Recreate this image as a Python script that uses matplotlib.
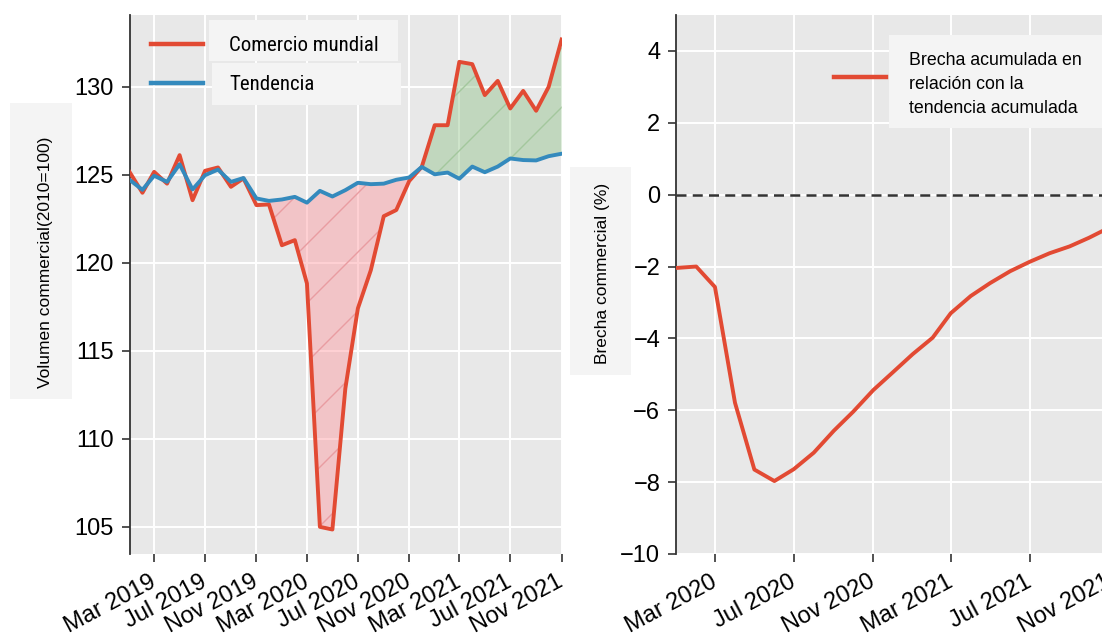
import numpy as np
import pandas as pd
import matplotlib
matplotlib.use("Agg")
import matplotlib.pyplot as plt
import matplotlib.dates as mdates
from matplotlib import font_manager
from matplotlib.lines import Line2D
from matplotlib.patches import Rectangle
from matplotlib.path import Path
from matplotlib.transforms import IdentityTransform, ScaledTranslation

# ---- data -----------------------------------------------------------------
months_trade = pd.date_range("2019-01-01", periods=35, freq="MS")
world_trade = [125.17, 123.98, 125.17, 124.50, 126.12, 123.56, 125.23, 125.42,
               124.32, 124.80, 123.28, 123.32, 121.00, 121.29, 118.83, 105.00,
               104.85, 112.86, 117.41, 119.58, 122.65, 123.00, 124.65, 125.45,
               127.82, 127.82, 131.42, 131.29, 129.53, 130.34, 128.77, 129.77,
               128.64, 130.00, 132.69]
trend = [124.72, 124.15, 124.95, 124.60, 125.60, 124.17, 124.98, 125.30,
         124.60, 124.82, 123.66, 123.52, 123.60, 123.75, 123.42, 124.09,
         123.77, 124.13, 124.55, 124.47, 124.50, 124.72, 124.85, 125.45,
         125.03, 125.13, 124.78, 125.47, 125.15, 125.47, 125.93, 125.84,
         125.82, 126.06, 126.20]
gap_start_index = 11  # shading of the gap starts in Dec 2019

months_gap = pd.date_range("2020-01-01", periods=23, freq="MS")
cumulative_gap = [-2.04, -2.00, -2.57, -5.79, -7.65, -7.97, -7.64, -7.18,
                  -6.57, -6.04, -5.44, -4.95, -4.44, -3.98, -3.30, -2.82,
                  -2.46, -2.13, -1.87, -1.63, -1.44, -1.20, -0.92]

label_trade = "Comercio mundial"
label_trend = "Tendencia"
label_gap = "Brecha acumulada en\nrelación con la\ntendencia acumulada"
ylabel_left = "Volumen commercial(2010=100)"
ylabel_right = "Brecha commercial (%)"

# ---- style ----------------------------------------------------------------
RED = "#E24A33"
BLUE = "#348ABD"
FACE = "#E8E8E8"
BOX = "#F4F4F4"
DARK = "#333333"
W, H = 1102, 640
YTICK_SIZE = 17
XTICK_SIZE = 17
XTICK_ROTATION = 28

plt.rcParams["font.family"] = ["Liberation Sans", "DejaVu Sans"]
plt.rcParams["axes.unicode_minus"] = True

# a narrow face for the left legend when one is installed
installed = {f.name for f in font_manager.fontManager.ttflist}
narrow = next((n for n in ["Liberation Sans Narrow", "Arial Narrow",
                           "Roboto Condensed", "Open Sans Condensed"]
               if n in installed), None)
if narrow:
    legend1_prop = {"family": [narrow, "Liberation Sans"], "size": 15}
else:
    legend1_prop = {"family": ["Liberation Sans", "DejaVu Sans"], "size": 13}
leg1_fs_px = legend1_prop["size"] * 100 / 72

fig = plt.figure(figsize=(W / 100, H / 100), dpi=100)
fig.patch.set_facecolor("white")


def px_axes(x0, y0, x1, y1):
    """Axes from a pixel box (top-left origin)."""
    return fig.add_axes([x0 / W, 1 - y1 / H, (x1 - x0) / W, (y1 - y0) / H])


def fig_box(x0, y0, x1, y1, color=BOX):
    r = Rectangle((x0 / W, 1 - y1 / H), (x1 - x0) / W, (y1 - y0) / H,
                  transform=fig.transFigure, facecolor=color, edgecolor="none",
                  zorder=-1)
    fig.add_artist(r)


def axes_box(ax, x0, y0, x1, y1, color=BOX):
    r = Rectangle((x0, H - y1), x1 - x0, y1 - y0, transform=IdentityTransform(),
                  facecolor=color, edgecolor="none", zorder=4.5, clip_on=False)
    ax.add_artist(r)


def style_axes(ax):
    ax.set_facecolor(FACE)
    ax.grid(True, color="white", linewidth=1.4)
    ax.set_axisbelow(True)
    for s in ("top", "right", "bottom"):
        ax.spines[s].set_visible(False)
    ax.spines["left"].set_color(DARK)
    ax.spines["left"].set_linewidth(1.3)
    ax.tick_params(axis="both", direction="out", colors=DARK, labelcolor="black",
                   width=1.2)
    ax.tick_params(axis="y", length=5.5, labelsize=YTICK_SIZE, pad=6)
    ax.tick_params(axis="x", length=6, labelsize=XTICK_SIZE, pad=6)
    ax.xaxis.set_major_locator(mdates.MonthLocator(bymonth=(3, 7, 11)))
    ax.xaxis.set_major_formatter(mdates.DateFormatter("%b %Y"))


def finish_xticklabels(ax):
    # slanted month labels, nudged a few pixels left of their ticks
    nudge = ScaledTranslation(-5 / 100, 0, fig.dpi_scale_trans)
    for lab in ax.get_xticklabels():
        lab.set_rotation(XTICK_ROTATION)
        lab.set_ha("right")
        lab.set_va("top")
        lab.set_rotation_mode("anchor")
        lab.set_transform(lab.get_transform() + nudge)


def hatch_lines(ax, coll, color, spacing=59, phase=-30):
    paths = coll.get_paths()
    if not paths:
        return
    clip = Path.make_compound_path(*paths)
    for k in np.arange(phase - 25 * spacing, phase + 25 * spacing, spacing):
        ln = Line2D([0, W], [-k, W - k], transform=IdentityTransform(),
                    color=color, linewidth=1.0, zorder=1.6)
        ln.set_clip_path(clip, ax.transData)
        ax.add_artist(ln)


# ---- left: world trade vs trend -----------------------------------------
ax1 = px_axes(129.5, 15, 561.6, 554)
style_axes(ax1)

red = np.array(world_trade)
blue = np.array(trend)
idx = np.arange(len(red))
xd = mdates.date2num(months_trade.to_pydatetime())

below = ax1.fill_between(xd, red, blue, where=(red <= blue) & (idx >= gap_start_index),
                         interpolate=True, facecolor="#FF9AA0", alpha=0.45,
                         edgecolor="none", zorder=1.5)
above = ax1.fill_between(xd, red, blue, where=(red >= blue) & (idx >= gap_start_index),
                         interpolate=True, facecolor="#8CC084", alpha=0.42,
                         edgecolor="none", zorder=1.5)
hatch_lines(ax1, below, "#E99CA1")
hatch_lines(ax1, above, "#A3C79D")

ax1.plot(xd, red, color=RED, linewidth=2.8, label=label_trade, zorder=3)
ax1.plot(xd, blue, color=BLUE, linewidth=2.8, label=label_trend, zorder=3.1)
ax1.set_xlim(xd[0], xd[-1])
ax1.set_yticks([105, 110, 115, 120, 125, 130])

leg1 = ax1.legend(loc="upper left",
                  bbox_to_anchor=((151 - 129.5) / 432.1, (554 - 36) / 539),
                  frameon=False, borderpad=0, borderaxespad=0,
                  handlelength=52 / leg1_fs_px, handletextpad=26 / leg1_fs_px,
                  labelspacing=20 / leg1_fs_px, prop=legend1_prop)
for lh in leg1.get_lines():
    lh.set_linewidth(3.2)
axes_box(ax1, 209, 20, 398, 61)
axes_box(ax1, 212, 63, 401, 105)

ax1.set_ylabel(ylabel_left, fontsize=12.5, va="center")
ax1.yaxis.set_label_coords((46 - 129.5) / 432.1, (554 - 262) / 539)
fig_box(10, 103, 72, 399)

# ---- right: cumulative gap ------------------------------------------------
ax2 = px_axes(676.2, 15, 1109.0, 554)
style_axes(ax2)
xg = mdates.date2num(months_gap.to_pydatetime())
ax2.axhline(0, color=DARK, linestyle=(0, (4, 2.5)), linewidth=1.8, zorder=2)
ax2.plot(xg, cumulative_gap, color=RED, linewidth=2.8, label=label_gap, zorder=3)
ax2.set_xlim(xg[0], xg[-1])
ax2.set_ylim(-10, 5)
ax2.set_yticks(np.arange(-10, 5, 2))

leg2 = ax2.legend(loc="upper left",
                  bbox_to_anchor=((834 - 676.2) / 432.8, (554 - 52) / 539),
                  frameon=False, borderpad=0, borderaxespad=0,
                  handlelength=2.9, handletextpad=1.3,
                  prop={"family": ["Liberation Sans", "DejaVu Sans"], "size": 12.8})
for t in leg2.get_texts():
    t.set_linespacing(1.55)
for lh in leg2.get_lines():
    lh.set_linewidth(3.2)
    # the key sits a little above the middle of the three-line label
    lh.set_ydata(np.asarray(lh.get_ydata()) + 6.0)
axes_box(ax2, 889, 35, 1110, 128)

ax2.set_ylabel(ylabel_right, fontsize=12.5, va="center")
ax2.yaxis.set_label_coords((602 - 676.2) / 432.8, (554 - 273) / 539)
fig_box(570, 167, 631, 375)

# tick objects exist after a first draw; then style the month labels
fig.canvas.draw()
finish_xticklabels(ax1)
finish_xticklabels(ax2)

fig.savefig("out.png", dpi=100, facecolor="white")
